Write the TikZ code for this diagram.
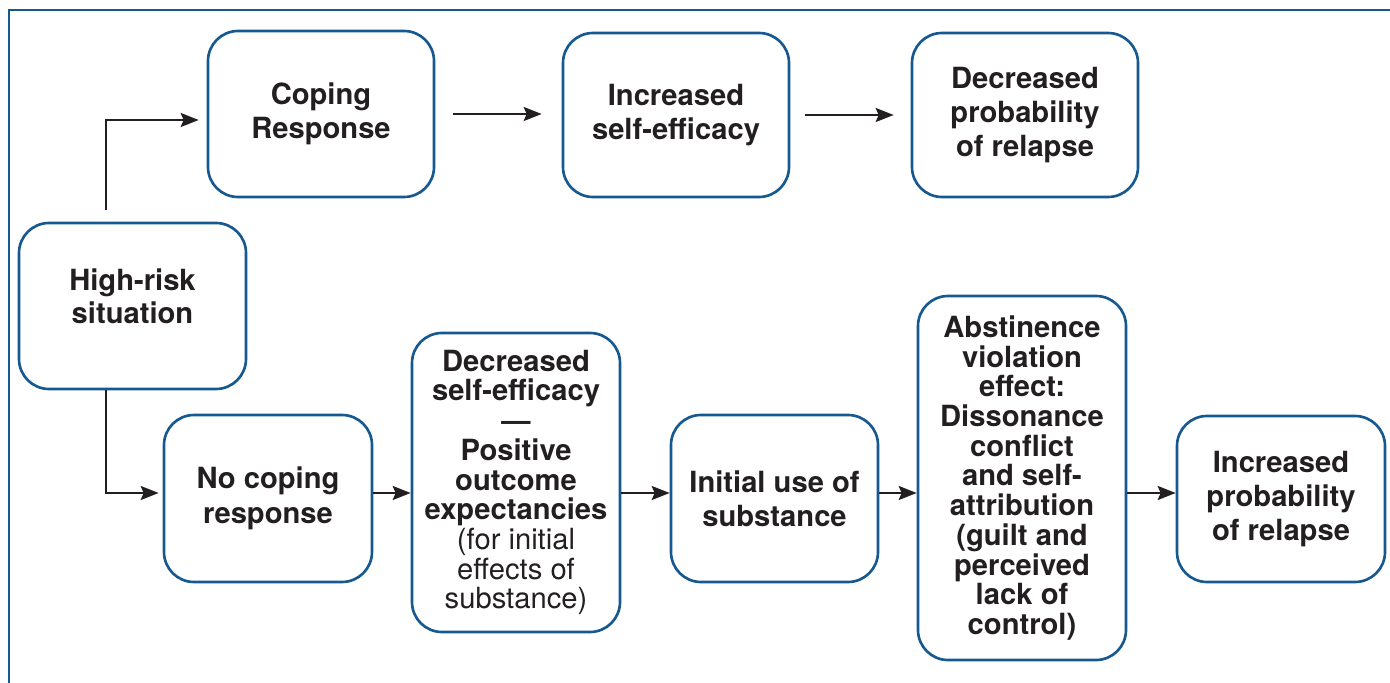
\documentclass[tikz,border=0pt]{standalone}
\usepackage{fontspec}
\setmainfont{TeX Gyre Heros}
\usepackage{tikz}
\usetikzlibrary{arrows.meta, positioning, calc}
\definecolor{frameblue}{RGB}{22, 89, 145}
\definecolor{inkdark}{RGB}{35, 31, 32}
\tikzset{
  stagebox/.style={draw=frameblue, line width=1.5pt, rounded corners=0.6cm,
    align=center, inner sep=0pt, text=inkdark,
    font=\fontsize{16.6}{19.6}\selectfont\bfseries},
  tallbox/.style={stagebox, font=\fontsize{16.6}{16.9}\selectfont\bfseries},
  flow/.style={-{Stealth[length=0.36cm, width=0.28cm, inset=0.06cm]},
    inkdark, line width=1.3pt},
}

\begin{document}
\begin{tikzpicture}
    \useasboundingbox (0,0) rectangle (27.8,-13.66);
    % Frame (top and left only)
    \draw[frameblue, line width=1.7pt] (0.18,-13.66) -- (0.18,-0.2) -- (27.8,-0.2);
    % Start
    \node[stagebox, minimum width=4.54cm, minimum height=3.32cm] (hrisk) at (2.65,-6.12) {};
    \node[align=center, text=inkdark, font=\fontsize{16.6}{19}\selectfont\bfseries] (hrisklabel)
      at ([yshift=0.2cm]hrisk.center) {High-risk\\situation};
    % Coping branch
    \node[stagebox, minimum width=4.52cm, minimum height=3.32cm] (coping) at (6.42,-2.28) {Coping\\Response};
    \node[stagebox, minimum width=4.52cm, minimum height=3.28cm] (incse) at (13.52,-2.30) {Increased\\self-efficacy};
    \node[stagebox, minimum width=4.52cm, minimum height=3.28cm] (decprob) at (20.50,-2.30) {Decreased\\probability\\of relapse};
    % No-coping branch
    \node[stagebox, minimum width=4.16cm, minimum height=3.34cm] (nocope) at (5.36,-9.97) {No coping\\response};
    \node[tallbox, minimum width=4.16cm, minimum height=5.98cm] (decse) at (10.32,-9.65)
      {Decreased\\self-efficacy\\\textemdash\\Positive\\outcome\\expectancies\\
       \mdseries(for initial\\\mdseries effects of\\\mdseries substance)};
    \node[stagebox, minimum width=4.14cm, minimum height=3.34cm] (inituse) at (15.49,-9.97) {Initial use of\\substance};
    \node[tallbox, minimum width=4.16cm, minimum height=7.28cm] (ave) at (20.44,-9.56)
      {Abstinence\\violation\\effect:\\Dissonance\\conflict\\and self-\\attribution\\(guilt and\\perceived\\lack of\\control)};
    \node[stagebox, minimum width=4.16cm, minimum height=3.32cm] (incprob) at (25.62,-9.98) {Increased\\probability\\of relapse};
    % Branch points
    \coordinate (split) at (2.12,-4.2);
    \coordinate (row) at (0,-9.86);
    % Upper branch
    \draw[flow, shorten >=0.16cm] (split) |- ([yshift=-0.12cm]coping.west);
    \draw[flow, shorten <=0.36cm, shorten >=0.4cm] (coping.east) -- (incse.west |- coping.east);
    \draw[flow, shorten <=0.3cm, shorten >=0.34cm] (incse.east) -- (decprob.west);
    % Lower branch
    \draw[flow, shorten >=0.08cm] (split |- hrisk.south) |- (nocope.west |- row);
    \draw[flow] (nocope.east |- row) -- (decse.west |- row);
    \draw[flow] (decse.east |- row) -- (inituse.west |- row);
    \draw[flow] (inituse.east |- row) -- (ave.west |- row);
    \draw[flow] (ave.east |- row) -- (incprob.west |- row);
\end{tikzpicture}
\end{document}
